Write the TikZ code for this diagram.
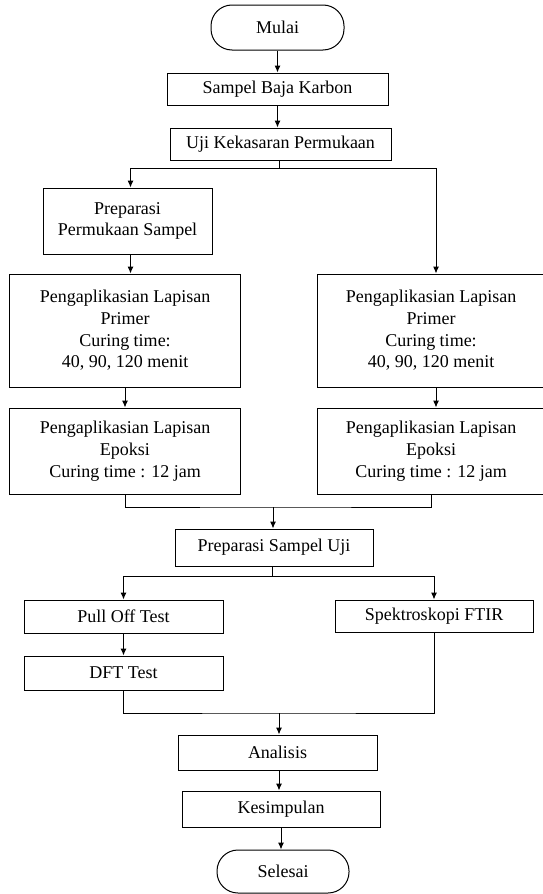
\documentclass[tikz,border=0pt]{standalone}
\usepackage{fontspec}
\setmainfont{Liberation Serif}
\usetikzlibrary{arrows.meta}
\begin{document}
\begin{tikzpicture}[x=1pt, y=-1pt, >={Latex[length=7pt,width=6pt]}, line width=1pt,
    font=\fontsize{18}{21.7}\selectfont,
    box/.style={draw, align=center, inner sep=0pt},
    term/.style={box, rounded corners=21pt}]
  \clip (0,0) rectangle (543,894);
  % boxes
  \node [term, minimum width=133pt, minimum height=45pt] (mulai) at (277.5,27.5) {Mulai};
  \node [box, minimum width=221pt, minimum height=32pt] (sampel) at (277.5,89) {Sampel Baja Karbon};
  \node [box, minimum width=221pt, minimum height=32pt] (uji) at (280.5,144) {Uji Kekasaran Permukaan};
  \node [box, minimum width=169pt, minimum height=66pt] (prepPermukaan) at (127.5,221) {Preparasi\\Permukaan Sampel};
  \node [box, minimum width=231pt, minimum height=113pt] (primerL) at (125,330.5) {Pengaplikasian Lapisan\\Primer\\Curing time:\\40, 90, 120 menit};
  \node [box, minimum width=228pt, minimum height=113pt] (primerR) at (431,330.5) {Pengaplikasian Lapisan\\Primer\\Curing time:\\40, 90, 120 menit};
  \node [box, minimum width=231pt, minimum height=86pt] (epoksiL) at (125,451) {Pengaplikasian Lapisan\\Epoksi\\Curing time : 12 jam};
  \node [box, minimum width=228pt, minimum height=86pt] (epoksiR) at (431,451) {Pengaplikasian Lapisan\\Epoksi\\Curing time : 12 jam};
  \node [box, minimum width=198pt, minimum height=37pt] (prepUji) at (274,547.5) {Preparasi Sampel Uji};
  \node [box, minimum width=199pt, minimum height=33pt] (pullOff) at (123.5,616.5) {Pull Off Test};
  \node [box, minimum width=198pt, minimum height=32pt] (ftir) at (434,616) {Spektroskopi FTIR};
  \node [box, minimum width=199pt, minimum height=34pt] (dft) at (123.5,673) {DFT Test};
  \node [box, minimum width=199pt, minimum height=35pt] (analisis) at (277.5,752.5) {Analisis};
  \node [box, minimum width=198pt, minimum height=36pt] (kesimpulan) at (281,809) {Kesimpulan};
  \node [term, minimum width=132pt, minimum height=43pt] (selesai) at (283,871.5) {Selesai};
  % split and merge points
  \coordinate (split1) at (279,168);
  \coordinate (merge1) at (273,507);
  \coordinate (split2) at (272,576);
  \coordinate (merge2) at (279,713);
  % connectors
  \draw [->] (mulai) -- (sampel);
  \draw [->] (sampel.south) -- (sampel.south |- uji.north);
  \draw (uji.south -| split1) -- (split1);
  \draw [->] (split1) -| ([xshift=3pt]prepPermukaan.north);
  \draw [->] (split1) -| ([xshift=5pt]primerR.north);
  \draw [->] ([xshift=3pt]prepPermukaan.south) -- ([xshift=3pt]prepPermukaan.south |- primerL.north);
  \draw [->] (primerL) -- (epoksiL);
  \draw [->] ([xshift=5pt]primerR.south) -- ([xshift=5pt]epoksiR.north);
  \draw (epoksiL.south) |- (merge1) -| (epoksiR.south);
  \draw [->] (merge1) -- (merge1 |- prepUji.north);
  \draw (prepUji.south -| split2) -- (split2);
  \draw [->] (split2) -| (pullOff.north);
  \draw [->] (split2) -| (ftir.north);
  \draw [->] (pullOff) -- (dft);
  \draw (dft.south) |- (merge2) -| (ftir.south);
  \draw [->] (merge2) -- (merge2 |- analisis.north);
  \draw [->] (analisis.south -| merge2) -- (merge2 |- kesimpulan.north);
  \draw [->] (kesimpulan.south) -- (kesimpulan.south |- selesai.north);
\end{tikzpicture}
\end{document}
